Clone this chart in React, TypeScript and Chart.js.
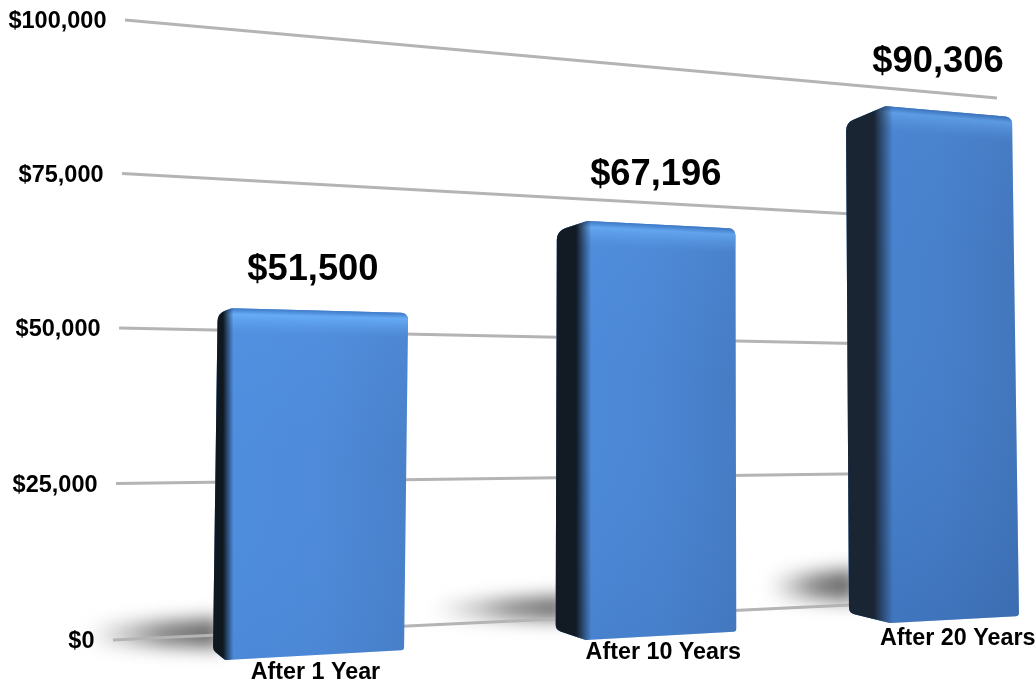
import React, { useEffect, useRef } from "react";
import { Chart, registerables } from "chart.js";

Chart.register(...registerables);

const categories = ["After 1 Year", "After 10 Years", "After 20 Years"];
const balances = [51500, 67196, 90306];
const yTicks = [0, 25000, 50000, 75000, 100000];
const yTickLabels = ["$0", "$25,000", "$50,000", "$75,000", "$100,000"];

type P = [number, number];

// square-to-quad perspective: p00, p10, p11, p01
function homography(p0: P, p1: P, p2: P, p3: P) {
  const dx1 = p1[0] - p2[0], dx2 = p3[0] - p2[0], sx = p0[0] - p1[0] + p2[0] - p3[0];
  const dy1 = p1[1] - p2[1], dy2 = p3[1] - p2[1], sy = p0[1] - p1[1] + p2[1] - p3[1];
  const den = dx1 * dy2 - dx2 * dy1;
  const g = (sx * dy2 - dx2 * sy) / den;
  const h = (dx1 * sy - sx * dy1) / den;
  const a = p1[0] - p0[0] + g * p1[0], b = p3[0] - p0[0] + h * p3[0], c = p0[0];
  const d = p1[1] - p0[1] + g * p1[1], e = p3[1] - p0[1] + h * p3[1], f = p0[1];
  return (u: number, v: number): P => {
    const w = g * u + h * v + 1;
    return [(a * u + b * v + c) / w, (d * u + e * v + f) / w];
  };
}

// Camera: wall behind the bars, front faces and rear-left edges of the bars
const wall = homography([113, 640], [997, 598], [997, 98], [125, 20]);
const front = homography([225, 660], [1019, 616], [1012, 117], [237, 50]);
const rear = homography([213, 650], [849, 613], [846, 123], [221, 64]);
const FRONT_REF = 0.903;

const FONT = '"Liberation Sans", Arial, sans-serif';
const valueOffset: P[] = [[-9, -41], [-7, -50], [-12, -50]];
const labelOffset: P[] = [[-1, 18], [1, 17], [2, 19]];
const rearNudge = [0, -4, 0];
const sideDark = ["#0f171f", "#121a24", "#1a2534"];
const shadowBox = [
  { len: 125, top: -32, bottom: -2 },
  { len: 125, top: -34, bottom: -10 },
  { len: 80, top: -44, bottom: -12 },
];

function roundedPath(ctx: CanvasRenderingContext2D, pts: P[], radii: number[]) {
  const n = pts.length;
  const s0 = pts[n - 1], s1 = pts[0];
  ctx.beginPath();
  ctx.moveTo((s0[0] + s1[0]) / 2, (s0[1] + s1[1]) / 2);
  for (let i = 0; i < n; i++) {
    const a = pts[i], b = pts[(i + 1) % n];
    ctx.arcTo(a[0], a[1], b[0], b[1], radii[i]);
  }
  ctx.closePath();
}

const perspectivePlugin = {
  id: "perspective",
  afterDatasetsDraw(chart: any) {
    const ctx: CanvasRenderingContext2D = chart.ctx;
    const yS = chart.scales.y;
    const bars = chart.getDatasetMeta(0).data;
    const vOf = (val: number) => (yS.bottom - yS.getPixelForValue(val)) / (yS.bottom - yS.top);
    const x0 = bars[0].x - bars[0].width / 2;
    const x1 = bars[2].x + bars[2].width / 2;
    const uOf = (px: number) => (px - x0) / (x1 - x0);
    const rearSpan = uOf(bars[2].x - bars[2].width / 2);

    ctx.save();
    // floor shadows
    bars.forEach((b: any, i: number) => {
      const u = uOf(b.x - b.width / 2);
      const p = rear(u / rearSpan, 0);
      const s = shadowBox[i];
      ctx.save();
      ctx.filter = "blur(9px)";
      const g = ctx.createLinearGradient(p[0] - s.len, 0, p[0], 0);
      g.addColorStop(0, "rgba(120,120,120,0)");
      g.addColorStop(0.3, "rgba(120,120,120,0.45)");
      g.addColorStop(0.6, "rgba(105,105,105,0.85)");
      g.addColorStop(1, "rgba(100,100,100,1)");
      ctx.fillStyle = g;
      ctx.beginPath();
      ctx.moveTo(p[0] + 8, p[1] + s.top);
      ctx.lineTo(p[0] - s.len, p[1] + s.top + 8);
      ctx.lineTo(p[0] - s.len, p[1] + s.bottom - 4);
      ctx.lineTo(p[0] + 8, p[1] + s.bottom);
      ctx.closePath();
      ctx.fill();
      ctx.restore();
    });

    // wall grid lines and y labels
    yTicks.forEach((t, i) => {
      const v = vOf(t);
      const a = wall(0, v);
      const b = wall(1, v);
      ctx.strokeStyle = "#b4b4b4";
      ctx.lineWidth = 3;
      ctx.beginPath();
      ctx.moveTo(a[0], a[1]);
      ctx.lineTo(b[0], b[1]);
      ctx.stroke();
      ctx.fillStyle = "#000";
      ctx.font = `bold 23.5px ${FONT}`;
      ctx.textAlign = "right";
      ctx.textBaseline = "middle";
      ctx.fillText(yTickLabels[i], a[0] - 18.5, a[1] + 2);
    });

    // bars
    bars.forEach((b: any, i: number) => {
      const uL = uOf(b.x - b.width / 2);
      const uR = uOf(b.x + b.width / 2);
      const vT = vOf(balances[i]) / FRONT_REF;
      const vB = vOf(0) / FRONT_REF;
      const A0 = rear(uL / rearSpan, vT);
      const F0 = rear(uL / rearSpan, vB);
      const A: P = [A0[0] + rearNudge[i], A0[1]];
      const F: P = [F0[0] + rearNudge[i], F0[1]];
      const B = front(uL, vT);
      const C = front(uR, vT);
      const D = front(uR, vB);
      const E = front(uL, vB);

      ctx.save();
      roundedPath(ctx, [A, B, C, D, E, F], [12, 5, 7, 3, 3, 7]);
      ctx.clip();

      const frontX = (B[0] + E[0]) / 2;
      const left = Math.min(A[0], F[0]) - 2;
      const right = Math.max(C[0], D[0]) + 2;
      const topY = Math.min(A[1], B[1], C[1]) - 5;

      // front colour
      const g = ctx.createLinearGradient(left, 0, right, 0);
      g.addColorStop(0, "#4f8fe0");
      g.addColorStop(0.55, "#4f8cdb");
      g.addColorStop(1, "#4a82cc");
      ctx.fillStyle = g;
      ctx.fillRect(left - 5, topY, right - left + 10, 700);

      // top bevel and vertical falloff
      const mid: P = [(B[0] + C[0]) / 2, (B[1] + C[1]) / 2];
      const slope = (C[1] - B[1]) / (C[0] - B[0]);
      const vg = ctx.createLinearGradient(mid[0], mid[1], mid[0] - slope * 500, mid[1] + 500);
      vg.addColorStop(0, "rgba(62,122,200,0.9)");
      vg.addColorStop(0.012, "rgba(105,175,250,0.95)");
      vg.addColorStop(0.05, "rgba(90,155,235,0.25)");
      vg.addColorStop(0.3, "rgba(85,150,235,0)");
      vg.addColorStop(1, "rgba(40,85,150,0.25)");
      ctx.fillStyle = vg;
      ctx.fillRect(left - 5, topY, right - left + 10, 700);
      const tint = ctx.createLinearGradient(0, 0, 1036, 0);
      tint.addColorStop(0, "rgba(30,60,110,0)");
      tint.addColorStop(0.5, "rgba(30,60,110,0.03)");
      tint.addColorStop(1, "rgba(30,60,110,0.18)");
      ctx.fillStyle = tint;
      ctx.fillRect(left - 5, topY, right - left + 10, 700);

      // dark side fading into the front face
      const sideW = frontX - left;
      const fade = frontX + 5;
      const side = ctx.createLinearGradient(left, 0, fade, 0);
      const dark = sideDark[i];
      const r = parseInt(dark.slice(1, 3), 16), gn = parseInt(dark.slice(3, 5), 16), bl = parseInt(dark.slice(5, 7), 16);
      side.addColorStop(0, `rgba(${r},${gn},${bl},1)`);
      side.addColorStop((sideW * 0.68) / (fade - left), `rgba(${r},${gn},${bl},1)`);
      side.addColorStop(1, `rgba(${r},${gn},${bl},0)`);
      ctx.fillStyle = side;
      ctx.fillRect(left - 5, topY, fade - left + 5, 700);
      ctx.restore();

      // value above the bar
      const topMid = front((uL + uR) / 2, vT);
      ctx.fillStyle = "#000";
      ctx.font = `bold 36.3px ${FONT}`;
      ctx.textAlign = "center";
      ctx.textBaseline = "middle";
      ctx.fillText("$" + balances[i].toLocaleString("en-US"), topMid[0] + valueOffset[i][0], topMid[1] + valueOffset[i][1]);

      // category below the bar
      const botMid = front((uL + uR) / 2, vB);
      ctx.font = `bold 23.3px ${FONT}`;
      ctx.fillText(categories[i], botMid[0] + labelOffset[i][0], botMid[1] + labelOffset[i][1]);
    });
    ctx.restore();
  },
};

export default function App() {
  const ref = useRef<HTMLCanvasElement>(null);
  useEffect(() => {
    if (!ref.current) return;
    const chart = new Chart(ref.current, {
      type: "bar",
      data: {
        labels: categories,
        datasets: [
          {
            label: "Balance",
            data: balances,
            backgroundColor: "rgba(0,0,0,0)",
            barPercentage: 0.475,
            categoryPercentage: 1,
          },
        ],
      },
      options: {
        animation: false,
        responsive: false,
        layout: { padding: 0 },
        plugins: { legend: { display: false }, tooltip: { enabled: false } },
        scales: {
          x: { display: false },
          y: { display: false, min: 0, max: 100000, ticks: { stepSize: 25000 } },
        },
      },
      plugins: [perspectivePlugin],
    });
    return () => chart.destroy();
  }, []);
  return (
    <canvas
      ref={ref}
      width={1036}
      height={684}
      style={{ position: "absolute", left: 0, top: 0, width: 1036, height: 684, background: "#fff" }}
    />
  );
}
